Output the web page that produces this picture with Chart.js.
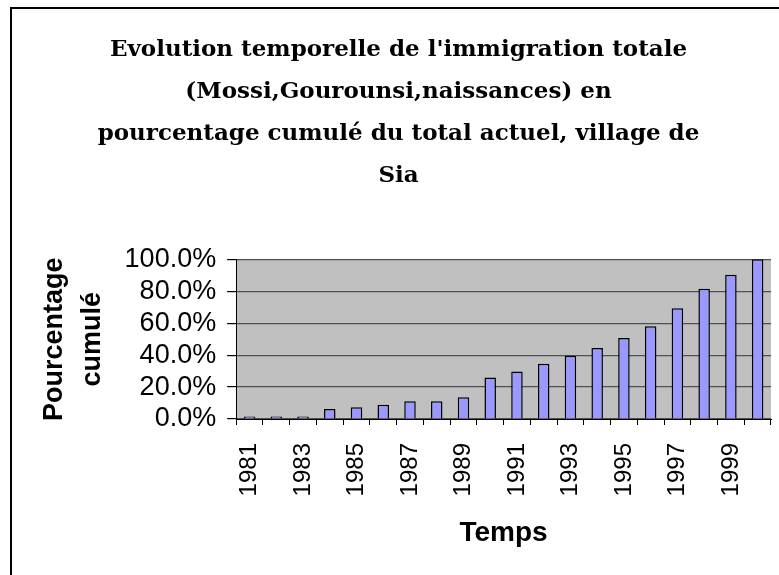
<!DOCTYPE html>
<html>
<head>
<meta charset="utf-8">
<script src="https://cdn.jsdelivr.net/npm/chart.js@4"></script>
<style>
  html, body { margin: 0; padding: 0; background: #fff; overflow: hidden; }
  #frame { position: absolute; left: 10px; top: 7px; width: 800px; height: 620px; border: 2px solid #000; }
  #wrap { position: absolute; left: 0; top: 0; width: 779px; height: 575px; }
</style>
</head>
<body>
<div id="frame"></div>
<div id="wrap"><canvas id="myChart" width="779" height="575"></canvas></div>
<script>
const years = ["1981", "1982", "1983", "1984", "1985", "1986", "1987", "1988", "1989", "1990",
  "1991", "1992", "1993", "1994", "1995", "1996", "1997", "1998", "1999", "2000"];
const cumulPct = [1.5, 1.5, 1.5, 6.2, 7.4, 8.9, 11.1, 11.1, 13.6, 26.0,
  29.7, 34.6, 39.6, 44.5, 50.7, 58.1, 69.3, 81.6, 90.3, 100.0];
const titleLines = [
  "Evolution temporelle de l'immigration totale",
  "(Mossi,Gourounsi,naissances) en",
  "pourcentage cumulé du total actuel, village de",
  "Sia"
];

// grey plot background
const plotBg = {
  id: "plotBg",
  beforeDraw(chart) {
    const a = chart.chartArea;
    const ctx = chart.ctx;
    ctx.save();
    ctx.fillStyle = "#c0c0c0";
    ctx.fillRect(a.left, a.top, a.right - a.left, a.bottom - a.top);
    ctx.restore();
  }
};

new Chart("myChart", {
  type: "bar",
  data: {
    labels: years,
    datasets: [{
      data: cumulPct,
      backgroundColor: "#9999ff",
      borderColor: "#000",
      borderWidth: 1.5,
      barPercentage: 0.43,
      categoryPercentage: 1
    }]
  },
  options: {
    responsive: false,
    animation: false,
    layout: { padding: { left: 26, right: 8, top: 10, bottom: 10 } },
    plugins: {
      legend: { display: false },
      tooltip: { enabled: false },
      title: {
        display: true,
        text: titleLines,
        color: "#000",
        font: { family: "DejaVu Serif", size: 23, weight: "bold", lineHeight: 1.83 },
        padding: { top: 19, bottom: 62 }
      }
    },
    scales: {
      x: {
        offset: true,
        afterFit: (s) => { s.paddingLeft = 0; s.paddingRight = 0; },
        grid: { display: true, drawOnChartArea: false, offset: true, tickLength: 6, tickColor: "#000" },
        border: { color: "#000", width: 1 },
        ticks: {
          color: "#000",
          padding: 18,
          minRotation: 90,
          maxRotation: 90,
          autoSkip: false,
          font: { family: "Liberation Sans", size: 24 },
          callback: (v, i) => (i % 2 === 0 ? years[i] : "")
        },
        title: {
          display: true,
          text: "Temps",
          color: "#000",
          font: { family: "Liberation Sans", size: 28, weight: "bold", lineHeight: 1.2 },
          padding: { top: 2, bottom: 15 }
        }
      },
      y: {
        min: 0,
        max: 100,
        grid: { color: "#505050", lineWidth: 1.2, tickLength: 9, tickColor: "#000" },
        border: { color: "#000", width: 1 },
        ticks: {
          color: "#000",
          padding: 11,
          stepSize: 20,
          autoSkip: false,
          font: { family: "Liberation Sans", size: 27 },
          callback: (v) => v.toFixed(1) + "%"
        },
        title: {
          display: true,
          text: ["Pourcentage", "cumulé"],
          color: "#000",
          font: { family: "Liberation Sans", size: 27, weight: "bold", lineHeight: 1.4 },
          padding: { top: 10, bottom: 2 }
        }
      }
    }
  },
  plugins: [plotBg]
});
</script>
</body>
</html>
